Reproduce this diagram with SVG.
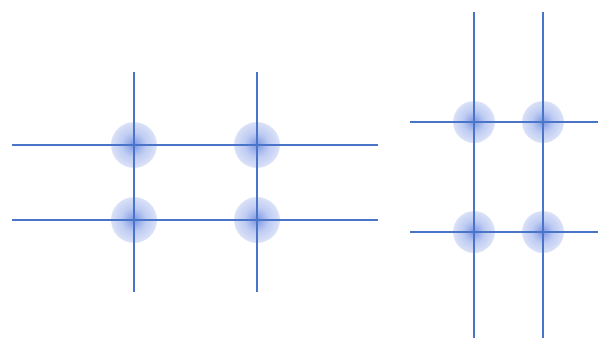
<svg xmlns="http://www.w3.org/2000/svg" width="598" height="338" viewBox="0 0 598 338">
<defs>
<radialGradient id="g">
<stop offset="0" stop-color="#6a8ae0" stop-opacity="0.9"/>
<stop offset="0.55" stop-color="#a6b8ee" stop-opacity="0.7"/>
<stop offset="1" stop-color="#d3dcf6" stop-opacity="0.8"/>
</radialGradient>
<style>
.n{fill:url(#g);stroke:none}
.l{stroke:#4a74c8;stroke-width:2;fill:none}
</style>
</defs>
<rect width="598" height="338" fill="#ffffff"/>
<g id="nodes">
<g id="n1"><circle class="n" cx="134" cy="145" r="23"/></g>
<g id="n2"><circle class="n" cx="257" cy="145" r="23"/></g>
<g id="n3"><circle class="n" cx="134" cy="220" r="23"/></g>
<g id="n4"><circle class="n" cx="257" cy="220" r="23"/></g>
<g id="n5"><circle class="n" cx="474" cy="122" r="21"/></g>
<g id="n6"><circle class="n" cx="543" cy="122" r="21"/></g>
<g id="n7"><circle class="n" cx="474" cy="232" r="21"/></g>
<g id="n8"><circle class="n" cx="543" cy="232" r="21"/></g>
</g>
<g id="connectors">
<line class="l" x1="12" y1="145" x2="378" y2="145"/>
<line class="l" x1="12" y1="220" x2="378" y2="220"/>
<line class="l" x1="134" y1="72" x2="134" y2="292"/>
<line class="l" x1="257" y1="72" x2="257" y2="292"/>
<line class="l" x1="410" y1="122" x2="598" y2="122"/>
<line class="l" x1="410" y1="232" x2="598" y2="232"/>
<line class="l" x1="474" y1="12" x2="474" y2="338"/>
<line class="l" x1="543" y1="12" x2="543" y2="338"/>
</g>
</svg>
